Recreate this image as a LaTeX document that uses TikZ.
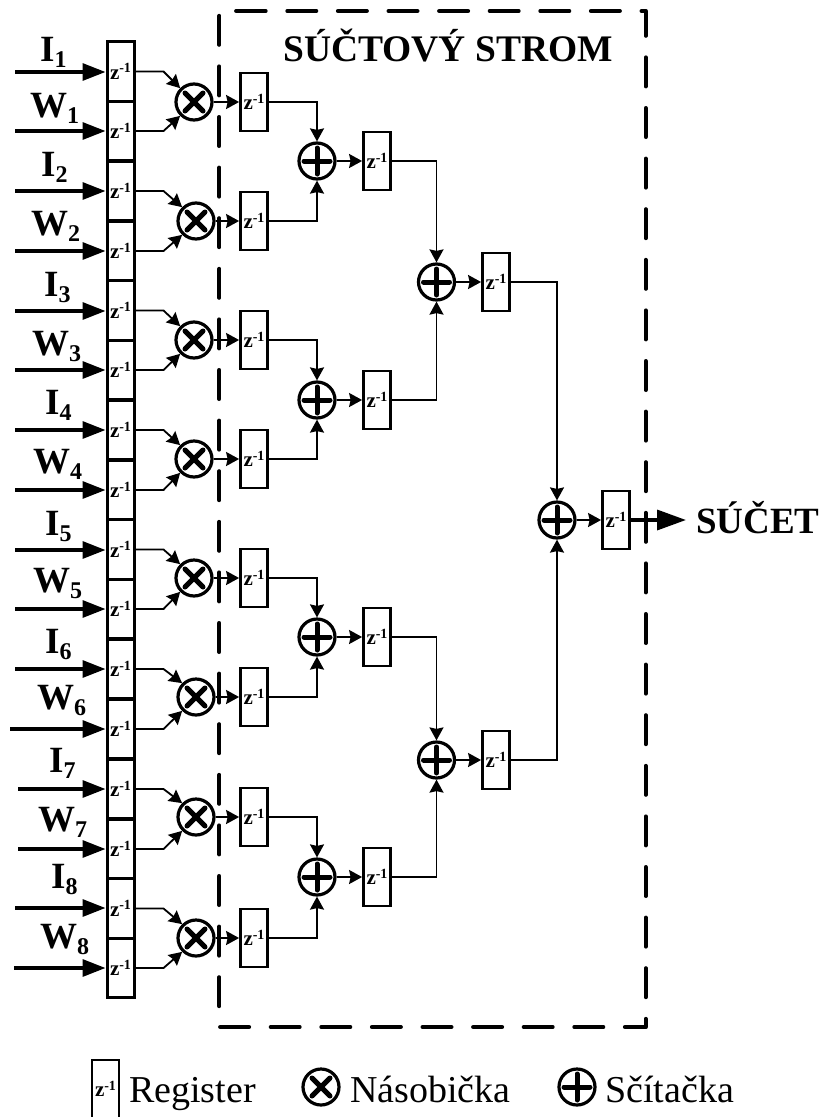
\documentclass[tikz,border=0pt]{standalone}
\usepackage{fontspec}
\setmainfont{Liberation Serif}
\usetikzlibrary{arrows.meta}
\newcommand{\zinv}{{\fontsize{21}{21}\selectfont\bfseries z\raisebox{6.5pt}{\fontsize{14}{14}\selectfont -1}}}
\newcommand{\siglabel}[2]{{\fontsize{37}{37}\selectfont\bfseries #1\raisebox{-6pt}{\fontsize{24}{24}\selectfont #2}}}
\tikzset{
  regbox/.style={draw,line width=2.8pt,rectangle,inner sep=0pt,minimum width=27pt,minimum height=58pt},
  regleft/.style={regbox,line width=3pt,minimum width=27pt,minimum height=59.7pt},
  opbase/.style={draw,circle,line width=3.2pt,inner sep=0pt,minimum size=36pt},
  mulop/.style={opbase,path picture={\draw[line width=5pt,line cap=round]
     ([shift={(-9pt,-9pt)}]path picture bounding box.center) -- ([shift={(9pt,9pt)}]path picture bounding box.center)
     ([shift={(-9pt,9pt)}]path picture bounding box.center) -- ([shift={(9pt,-9pt)}]path picture bounding box.center);}},
  addop/.style={opbase,path picture={\draw[line width=5pt,line cap=round]
     ([shift={(-13pt,0pt)}]path picture bounding box.center) -- ([shift={(13pt,0pt)}]path picture bounding box.center)
     ([shift={(0pt,-13pt)}]path picture bounding box.center) -- ([shift={(0pt,13pt)}]path picture bounding box.center);}},
  wire/.style={line width=1.8pt,-{Stealth[length=13pt,width=14pt,inset=1.5pt]}},
  inwire/.style={line width=3.2pt,-{Triangle[length=23pt,width=17pt]}},
  outwire/.style={line width=3.5pt,-{Triangle[length=29pt,width=20pt]}},
  dashbox/.style={line width=4pt,line cap=round,line join=round,dash pattern=on 29pt off 21.6pt},
  siglab/.style={anchor=base west,inner sep=0pt},
  legendtext/.style={anchor=base west,inner sep=0pt,font=\fontsize{38}{38}\selectfont},
}
\begin{document}
\begin{tikzpicture}[x=1pt,y=-1pt]
\useasboundingbox (0,0) rectangle (822,1117);
% dashed frame
\coordinate (fa) at (236.7,11);
\coordinate (fb) at (645.7,11);
\coordinate (fc) at (645.7,1027);
\coordinate (fd) at (219.3,1027);
\coordinate (fe) at (219.3,11);
\draw[dashbox] (fa) -- (fb) -- (fc) -- (fd) -- (fe) -- (fa);
\node[anchor=base west,inner sep=0pt,font=\fontsize{37.5}{37.5}\selectfont\bfseries] (title) at (283,61) {SÚČTOVÝ STROM};
% input registers, inputs, labels
\foreach \i/\ctr/\ax/\ay/\txt/\sub/\lx/\ly in {
 1/71.5/15/72/I/1/40/61, 2/131/15/131/W/1/30/117,
 3/191/15/191/I/2/41/176, 4/251/15/251/W/2/31/235,
 5/310.5/15/311/I/3/44/296, 6/370/15/370/W/3/32/355,
 7/430/15/430/I/4/45/414, 8/490/15/490/W/4/33/473,
 9/549.5/15/550/I/5/45/535, 10/609/15/609/W/5/33/592,
 11/669/15/669/I/6/45/653, 12/729/10/729/W/6/37/709,
 13/789/18/789/I/7/49/772, 14/849/18/849/W/7/38/831,
 15/908.5/15/908/I/8/51/888, 16/968/14/968/W/8/40/948}{
  \node[regleft] (r\i) at (120.5,\ctr) {\zinv};
  \coordinate (in\i) at (\ax,\ay);
  \draw[inwire] (in\i) -- (r\i.west |- in\i);
  \node[siglab] (lab\i) at (\lx,\ly) {\siglabel{\txt}{\sub}};
}
% multipliers and their registers
\foreach \m/\x/\y/\ra/\rb in {1/194/102/1/2,2/196/221/3/4,3/194/340/5/6,4/194/459/7/8,5/194/578/9/10,6/196/697/11/12,7/196/817/13/14,8/196/938/15/16}{
  \node[mulop] (m\m) at (\x,\y) {};
  \node[regbox] (s\m) at (254,\y) {\zinv};
  \draw[wire] (r\ra.east) -- ++(28,0) -- (m\m.135);
  \draw[wire] (r\rb.east) -- ++(28,0) -- (m\m.225);
  \draw[wire] (m\m.east) -- (s\m.west);
}
% first adder stage
\foreach \a/\y/\p/\q in {1/161/1/2,2/400/3/4,3/637/5/6,4/877/7/8}{
  \node[addop] (a\a) at (317,\y) {};
  \node[regbox] (t\a) at (377,\y) {\zinv};
  \draw[wire] (s\p.east) -| (a\a.north);
  \draw[wire] (s\q.east) -| (a\a.south);
  \draw[wire] (a\a.east) -- (t\a.west);
}
% second adder stage
\foreach \b/\y/\p/\q in {1/282/1/2,2/760/3/4}{
  \node[addop] (b\b) at (436.5,\y) {};
  \node[regbox] (u\b) at (496,\y) {\zinv};
  \draw[wire] (t\p.east) -| (b\b.north);
  \draw[wire] (t\q.east) -| (b\b.south);
  \draw[wire] (b\b.east) -- (u\b.west);
}
% final stage
\node[addop] (c) at (557,520) {};
\node[regbox] (v) at (616,520) {\zinv};
\draw[wire] (u1.east) -| (c.north);
\draw[wire] (u2.east) -| (c.south);
\draw[wire] (c.east) -- (v.west);
\coordinate (outp) at (686,520);
\draw[outwire] (v.east) -- (outp);
\node[anchor=base west,inner sep=0pt,font=\fontsize{37}{37}\selectfont\bfseries] (sum) at (696,533) {SÚČET};
% legend
\node[regbox] (lr) at (105.5,1089) {\zinv};
\node[legendtext] (lrt) at (129,1102) {Register};
\node[mulop] (lm) at (321,1087) {};
\node[legendtext] (lmt) at (350,1102) {Násobička};
\node[addop] (la) at (577,1087) {};
\node[legendtext] (lat) at (605,1102) {Sčítačka};
\end{tikzpicture}
\end{document}
